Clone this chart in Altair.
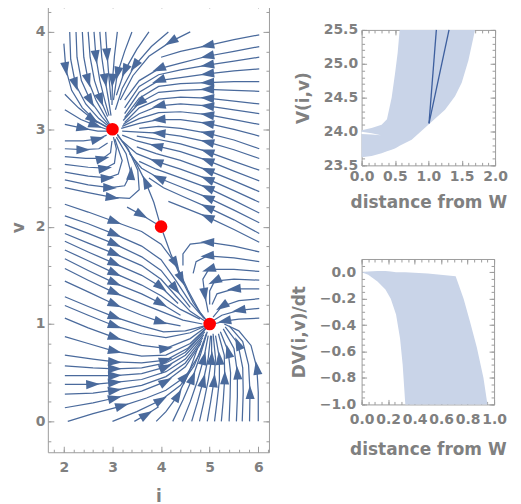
import math
import numpy as np
import pandas as pd
import altair as alt

# ---------------- data ----------------
# stream lines of the phase portrait, (i, v) in flow direction
STREAMS = [
    # from the top, into (3,3)
    [(2.0,3.88),(2.04,3.62),(2.16,3.4),(2.38,3.22),(2.65,3.09),(2.9,3.02)],
    [(2.12,4.0),(2.14,3.72),(2.24,3.46),(2.45,3.26),(2.72,3.11),(2.92,3.03)],
    [(2.25,4.0),(2.27,3.74),(2.36,3.5),(2.55,3.29),(2.78,3.13),(2.93,3.04)],
    [(2.38,4.0),(2.41,3.74),(2.5,3.5),(2.66,3.3),(2.84,3.14),(2.94,3.05)],
    [(2.5,4.0),(2.54,3.74),(2.63,3.5),(2.76,3.3),(2.9,3.13)],
    [(2.62,4.0),(2.66,3.74),(2.74,3.5),(2.84,3.3),(2.93,3.14)],
    [(2.74,4.0),(2.78,3.74),(2.85,3.5),(2.92,3.3),(2.97,3.14)],
    [(2.86,4.0),(2.89,3.76),(2.93,3.52),(2.97,3.3)],
    # diagonal from upper right into (3,3)
    [(3.1,4.0),(3.04,3.75),(3.0,3.5),(2.99,3.25)],
    [(3.4,4.0),(3.25,3.8),(3.1,3.57),(3.02,3.3)],
    [(3.75,4.0),(3.5,3.82),(3.25,3.6),(3.08,3.35)],
    [(4.15,4.0),(3.8,3.85),(3.45,3.65),(3.2,3.42),(3.06,3.2)],
    [(4.6,4.0),(4.2,3.9),(3.75,3.75),(3.42,3.55),(3.16,3.3)],
    # from the right edge, upper part
    [(6.02,3.97),(5.5,3.92),(4.95,3.86),(4.4,3.8),(4.0,3.74)],
    [(6.02,3.85),(5.5,3.8),(4.95,3.75),(4.4,3.68),(3.95,3.62),(3.55,3.5),(3.25,3.3)],
    [(6.02,3.74),(5.5,3.7),(4.95,3.66),(4.4,3.61),(3.95,3.56),(3.55,3.44),(3.25,3.22)],
    [(6.02,3.62),(5.5,3.6),(4.95,3.57),(4.4,3.53),(3.95,3.5),(3.55,3.38),(3.25,3.16)],
    [(6.02,3.49),(5.5,3.49),(4.95,3.48),(4.4,3.47),(3.95,3.44),(3.55,3.32),(3.25,3.12)],
    [(6.02,3.39),(5.5,3.4),(4.95,3.41),(4.4,3.4),(3.95,3.38),(3.55,3.27),(3.22,3.09)],
    [(6.02,3.26),(5.5,3.29),(4.95,3.32),(4.4,3.33),(3.95,3.31),(3.55,3.22),(3.25,3.07)],
    [(6.02,3.16),(5.5,3.2),(4.95,3.24),(4.4,3.26),(3.95,3.24),(3.55,3.16),(3.22,3.05)],
    [(6.02,3.05),(5.5,3.1),(4.95,3.15),(4.4,3.18),(3.95,3.17),(3.55,3.11),(3.2,3.03)],
    [(6.02,2.93),(5.5,3.0),(4.95,3.06),(4.4,3.1),(3.95,3.1),(3.55,3.06),(3.18,3.01)],
    [(6.02,2.8),(5.5,2.89),(4.95,2.96),(4.4,3.01),(3.95,3.03),(3.55,3.01)],
    [(6.02,2.7),(5.5,2.79),(4.95,2.87),(4.4,2.93),(3.95,2.96),(3.55,2.97),(3.2,2.98)],
    # from the right edge, middle, up-left into (3,3)
    [(6.02,2.58),(5.5,2.67),(4.95,2.77),(4.4,2.85),(3.9,2.9),(3.5,2.93)],
    [(6.02,2.47),(5.5,2.57),(4.95,2.68),(4.4,2.77),(3.9,2.83),(3.5,2.88),(3.2,2.94)],
    [(6.02,2.36),(5.5,2.47),(4.95,2.58),(4.4,2.68),(3.9,2.75),(3.5,2.82)],
    [(6.02,2.25),(5.5,2.37),(4.95,2.49),(4.4,2.59),(3.9,2.67),(3.5,2.75),(3.2,2.88)],
    [(6.02,2.14),(5.5,2.27),(4.95,2.4),(4.4,2.5),(3.9,2.59),(3.55,2.67)],
    [(6.02,2.04),(5.5,2.17),(4.95,2.3),(4.4,2.41),(3.95,2.5),(3.6,2.6),(3.35,2.75)],
    [(6.02,1.93),(5.5,2.07),(4.95,2.2),(4.45,2.31),(4.05,2.4),(3.75,2.5)],
    [(6.02,1.84),(5.5,1.97),(4.95,2.1),(4.5,2.19),(4.15,2.26)],
    # from the right edge, lower, into (5,1)
    [(6.02,1.74),(5.5,1.8),(4.95,1.84),(4.6,1.82),(4.45,1.72),(4.45,1.6)],
    [(6.02,1.64),(5.5,1.68),(4.95,1.7),(4.72,1.64),(4.66,1.52)],
    [(6.02,1.54),(5.5,1.56),(4.98,1.56),(4.86,1.46),(4.9,1.3),(4.97,1.12)],
    [(6.02,1.45),(5.5,1.46),(5.1,1.44),(5.0,1.34),(5.0,1.2)],
    [(6.02,1.36),(5.5,1.36),(5.15,1.31),(5.05,1.2)],
    [(6.02,1.26),(5.6,1.24),(5.25,1.18),(5.07,1.07)],
    [(6.02,1.16),(5.6,1.14),(5.25,1.09),(5.06,1.03)],
    [(6.02,1.06),(5.6,1.05),(5.3,1.03),(5.09,1.0)],
    # from the bottom, into (5,1)
    [(4.24,0.0),(4.45,0.22),(4.65,0.45),(4.82,0.7),(4.95,0.92)],
    [(4.44,0.0),(4.6,0.2),(4.75,0.42),(4.88,0.65),(4.97,0.88)],
    [(4.63,0.0),(4.75,0.2),(4.87,0.42),(4.97,0.65),(5.02,0.88)],
    [(4.79,0.0),(4.88,0.2),(4.97,0.42),(5.04,0.65),(5.04,0.88)],
    [(4.95,0.0),(5.02,0.2),(5.09,0.42),(5.12,0.65),(5.07,0.9)],
    [(5.1,0.0),(5.15,0.2),(5.2,0.42),(5.2,0.65),(5.12,0.88)],
    [(5.24,0.0),(5.28,0.22),(5.31,0.45),(5.3,0.68),(5.18,0.9)],
    [(5.4,0.0),(5.42,0.25),(5.43,0.5),(5.38,0.72),(5.22,0.92)],
    [(5.55,0.0),(5.57,0.25),(5.57,0.5),(5.5,0.75),(5.28,0.95)],
    [(5.67,0.0),(5.69,0.3),(5.68,0.55),(5.58,0.8),(5.32,0.97)],
    [(5.82,0.0),(5.83,0.3),(5.8,0.58),(5.68,0.82),(5.4,0.98)],
    [(6.0,0.0),(6.0,0.3),(5.97,0.55),(5.85,0.78),(5.6,0.93),(5.3,1.0)],
    [(2.08,0.0),(2.6,0.08),(3.2,0.16),(3.7,0.24),(4.1,0.32),(4.5,0.46),(4.78,0.68),(4.93,0.9)],
    [(3.0,0.0),(3.5,0.1),(4.0,0.22),(4.4,0.37),(4.68,0.57),(4.88,0.82)],
    [(3.45,0.0),(3.7,0.07),(3.95,0.15)],
    [(3.9,0.0),(4.1,0.1),(4.35,0.27),(4.57,0.5),(4.75,0.75)],
    # from the left edge, lower part
    [(2.02,0.14),(2.6,0.19),(3.05,0.24),(3.6,0.31),(4.1,0.41),(4.5,0.56),(4.82,0.8)],
    [(2.02,0.28),(2.6,0.29),(3.05,0.32),(3.6,0.37),(4.1,0.46),(4.5,0.6),(4.84,0.83)],
    [(2.02,0.38),(2.6,0.38),(3.05,0.4),(3.6,0.43),(4.1,0.51),(4.5,0.64),(4.86,0.86)],
    [(2.02,0.47),(2.6,0.47),(3.05,0.47),(3.6,0.49),(4.1,0.56),(4.5,0.68),(4.88,0.89)],
    [(2.02,0.57),(2.6,0.55),(3.05,0.54),(3.6,0.55),(4.1,0.6),(4.5,0.71),(4.9,0.92)],
    [(2.02,0.68),(2.6,0.64),(3.05,0.61),(3.6,0.6),(4.1,0.63),(4.55,0.75),(4.92,0.95)],
    [(2.02,0.87),(2.5,0.8),(3.05,0.72),(3.6,0.67),(4.1,0.68),(4.6,0.8),(4.95,0.97)],
    [(2.02,1.06),(2.5,0.96),(3.05,0.86),(3.6,0.78),(4.1,0.75),(4.6,0.85),(4.95,0.98)],
    [(2.02,1.19),(2.5,1.09),(3.05,0.98),(3.6,0.9),(4.1,0.86),(4.6,0.91),(4.96,0.99)],
    # from the left edge, middle, down into (5,1)
    [(2.02,2.23),(2.5,2.15),(3.05,2.05),(3.6,1.95),(4.0,1.82),(4.3,1.62),(4.55,1.35),(4.8,1.12),(4.95,1.03)],
    [(2.02,2.11),(2.5,2.03),(3.05,1.92),(3.6,1.8),(4.0,1.66),(4.3,1.45),(4.6,1.22),(4.88,1.06)],
    [(2.02,2.02),(2.5,1.93),(3.05,1.82),(3.6,1.69),(4.0,1.55),(4.3,1.36),(4.6,1.17)],
    [(2.02,1.93),(2.5,1.83),(3.05,1.72),(3.6,1.6),(4.0,1.46),(4.3,1.29),(4.6,1.13),(4.9,1.03)],
    [(2.02,1.85),(2.5,1.74),(3.05,1.62),(3.6,1.5),(4.0,1.38),(4.35,1.21)],
    [(2.02,1.76),(2.5,1.65),(3.05,1.52),(3.6,1.4),(4.0,1.29),(4.4,1.15),(4.8,1.05)],
    [(2.02,1.67),(2.5,1.55),(3.05,1.42),(3.6,1.31),(4.0,1.21),(4.4,1.09)],
    [(2.02,1.57),(2.5,1.45),(3.05,1.32),(3.6,1.21),(4.0,1.13),(4.45,1.04),(4.85,1.0)],
    [(2.02,1.44),(2.5,1.33),(3.05,1.2),(3.6,1.09),(4.0,1.02),(4.4,0.98)],
    [(2.02,1.28),(2.5,1.18),(3.05,1.07),(3.6,0.98),(4.05,0.92),(4.5,0.93),(4.9,0.98)],
    # from the left edge, upper middle, turning up into (3,3)
    [(2.02,2.4),(2.5,2.35),(3.0,2.3),(3.35,2.29),(3.55,2.38),(3.52,2.58),(3.32,2.8),(3.1,2.94)],
    [(2.02,2.48),(2.5,2.43),(2.95,2.4),(3.25,2.42),(3.38,2.55),(3.28,2.75),(3.08,2.92)],
    [(2.02,2.56),(2.5,2.52),(2.9,2.5),(3.12,2.54),(3.2,2.68),(3.05,2.9)],
    [(2.02,2.64),(2.5,2.61),(2.85,2.6),(3.04,2.65),(3.08,2.8),(3.02,2.92)],
    [(2.02,2.72),(2.45,2.7),(2.8,2.7),(2.96,2.76),(2.99,2.88)],
    [(2.02,2.8),(2.4,2.79),(2.72,2.8),(2.9,2.86)],
    [(2.02,2.88),(2.4,2.88),(2.7,2.9),(2.88,2.94)],
    [(2.02,3.36),(2.3,3.22),(2.6,3.1),(2.88,3.02)],
    [(2.02,3.2),(2.35,3.1),(2.65,3.04),(2.88,3.0)],
    [(2.02,3.05),(2.4,3.01),(2.7,2.98),(2.9,2.98)],
    # separatrices of the saddle at (4,2)
    [(3.96,2.06),(3.85,2.25),(3.68,2.46),(3.48,2.66),(3.28,2.82),(3.1,2.95)],
    [(4.04,1.94),(4.2,1.72),(4.42,1.46),(4.66,1.22),(4.9,1.05)],
    [(3.3,2.2),(3.6,2.12),(3.9,2.03)],
]
# vertex of each stream line that carries an arrowhead
ARROW_AT = [
    [1],[2],[3],[2],[3],[1],[2],[1],
    [2],[2],[2],[2],[1],
    [2],[2,4],[2],[2,4],[2],[2,5],[2],[2,4],[2],[2,4],[2],[2,4],
    [2],[2,4],[2],[2,4],[2],[2,4],[2],[2],
    [2],[2],[2,4],[2],[1],[2],[1],[2],
    [2],[3],[2],[3],[2],[3],[2],[3],[2],[3],[1],[2],
    [2,5],[2],[1],[2],
    [2,4],[2],[1,2],[2,4],[2],[2,4],[2],[2,4],[2],
    [2,5],[2],[2,5],[2],[2,4],[2],[2,4],[2],[2,4],[2],
    [2],[2,4],[2],[2],[2],[1],[2],[2],[2],[1],
    [2],[2],[1],
]
FIXED_I = [3, 4, 5]
FIXED_V = [3, 2, 1]

# V(i,v) band against distance from W
DIST_TOP = [0.0, 0.15, 0.3, 0.38, 0.45, 0.5, 0.54, 0.57, 0.75, 1.0, 1.25, 1.4, 1.5, 1.6, 1.7]
V_LOWER = [23.62, 23.64, 23.68, 23.71, 23.73, 23.75, 23.77, 23.79, 23.88, 24.1, 24.32, 24.52, 24.72, 25.05, 25.5]
V_UPPER = [24.02, 24.05, 24.1, 24.18, 24.5, 24.85, 25.16, 25.5, 25.5, 25.5, 25.5, 25.5, 25.5, 25.5, 25.5]
# thin uncovered wedge near distance 0
GAP_D = [0.0, 0.15, 0.29]
GAP_LO = [23.965, 23.955, 23.945]
GAP_HI = [23.997, 23.975, 23.945]
SEG_D = [[1.01, 1.12], [1.01, 1.31]]
SEG_V = [[24.12, 25.5], [24.12, 25.5]]

# DV(i,v)/dt band against distance from W
DIST_BOT = [0.0, 0.05, 0.12, 0.18, 0.22, 0.26, 0.29, 0.31, 0.33, 0.5, 0.71, 0.77, 0.82, 0.87, 0.92, 0.95]
DV_UPPER = [0.0, 0.005, 0.01, 0.01, 0.005, 0.0, 0.0, 0.0, 0.0, -0.01, -0.03, -0.2, -0.38, -0.57, -0.8, -1.0]
DV_LOWER = [0.0, -0.02, -0.07, -0.13, -0.2, -0.32, -0.5, -0.7, -1.0, -1.0, -1.0, -1.0, -1.0, -1.0, -1.0, -1.0]

# ---------------- styling ----------------
FRAME = "#9c9c9c"
TXT = "#808080"
FONT = "DejaVu Sans"
STREAM_COL = "#4a6a9c"
FILL_COL = "#c9d4e8"
SEG_COL = "#3d5f9e"

L_W, L_H = 222, 452
XDOM = [1.67, 6.22]
YDOM = [-0.317, 4.307]


def axis(orient, values, length, labels=False, title=None, fmt=None, pad=4, tpad=8):
    kw = dict(orient=orient, values=values, tickSize=length, offset=-length,
              domain=False, labels=labels, ticks=True, tickColor=FRAME, tickWidth=1,
              grid=False, labelPadding=pad, labelFont=FONT, labelFontSize=14,
              labelFontWeight="bold", labelColor=TXT, labelOverlap=False,
              labelFlush=False, titleFont=FONT, titleFontSize=17,
              titleFontWeight="bold", titleColor=TXT, titlePadding=tpad,
              title=title)
    if fmt:
        kw["format"] = fmt
    return alt.Axis(**kw)


def steps(a, b, s):
    return [round(x, 3) for x in np.arange(a, b + s / 2, s)]


# ---------------- left: stream plot ----------------
rows = []
for sid, pts in enumerate(STREAMS):
    for k, (i, v) in enumerate(pts):
        rows.append({"sid": sid, "ord": k, "i": i, "v": v})
stream_df = pd.DataFrame(rows)

sx = L_W / (XDOM[1] - XDOM[0])
sy = L_H / (YDOM[1] - YDOM[0])
arows = []
for sid, pts in enumerate(STREAMS):
    for k in ARROW_AT[sid]:
        a = pts[max(k - 1, 0)]
        b = pts[min(k + 1, len(pts) - 1)]
        dx = (b[0] - a[0]) * sx
        dy = -(b[1] - a[1]) * sy
        ang = math.degrees(math.atan2(dy, dx)) % 360
        arows.append({"i": pts[k][0], "v": pts[k][1], "ang": ang})
arrow_df = pd.DataFrame(arows)
fixed_df = pd.DataFrame({"i": FIXED_I, "v": FIXED_V})

xs = alt.Scale(domain=XDOM, nice=False, zero=False)
ys = alt.Scale(domain=YDOM, nice=False, zero=False)
xmaj, xmin = [2, 3, 4, 5, 6], steps(1.8, 6.2, 0.2)
ymaj, ymin = [0, 1, 2, 3, 4], steps(-0.2, 4.2, 0.2)

streams = alt.Chart(stream_df).mark_line(color=STREAM_COL, strokeWidth=1.25).encode(
    x=alt.X("i:Q", scale=xs, axis=axis("bottom", xmaj, 6, True, "i", pad=8, tpad=14)),
    y=alt.Y("v:Q", scale=ys, axis=axis("left", ymaj, 6, True, "v", pad=3, tpad=8)),
    detail="sid:N", order="ord:Q")

arrows = alt.Chart(arrow_df).mark_point(
    shape="M1,0L-1,-0.66L-1,0.66Z", filled=True, size=190, color=STREAM_COL,
    opacity=1, strokeWidth=0).encode(
    x=alt.X("i:Q", scale=xs, axis=axis("bottom", xmin, 3)),
    y=alt.Y("v:Q", scale=ys, axis=axis("left", ymin, 3)),
    angle=alt.Angle("ang:Q", scale=alt.Scale(domain=[0, 360], range=[0, 360])))

fixed = alt.Chart(fixed_df).mark_circle(size=160, color="#ff0000", opacity=1).encode(
    x=alt.X("i:Q", scale=xs, axis=axis("top", xmaj, 6)),
    y=alt.Y("v:Q", scale=ys, axis=axis("right", ymaj, 6)))

frame_l = alt.Chart(fixed_df).mark_circle(opacity=0).encode(
    x=alt.X("i:Q", scale=xs, axis=axis("top", xmin, 3)),
    y=alt.Y("v:Q", scale=ys, axis=axis("right", ymin, 3)))

left = alt.layer(streams, arrows, fixed, frame_l).resolve_axis(
    x="independent", y="independent").properties(width=L_W, height=L_H)

# ---------------- top right ----------------
top_df = pd.DataFrame({"d": DIST_TOP, "lo": V_LOWER, "hi": V_UPPER})
gap_df = pd.DataFrame({"d": GAP_D, "lo": GAP_LO, "hi": GAP_HI})
seg_rows = []
for k in range(len(SEG_D)):
    for j in range(2):
        seg_rows.append({"sid": k, "ord": j, "d": SEG_D[k][j], "V": SEG_V[k][j]})
seg_df = pd.DataFrame(seg_rows)

txs = alt.Scale(domain=[0, 2], nice=False, zero=False)
tys = alt.Scale(domain=[23.5, 25.5], nice=False, zero=False)
tx_maj, tx_min = steps(0, 2, 0.5), steps(0, 2, 0.1)
ty_maj, ty_min = steps(23.5, 25.5, 0.5), steps(23.5, 25.5, 0.1)

t_area = alt.Chart(top_df).mark_area(color=FILL_COL, opacity=1).encode(
    x=alt.X("d:Q", scale=txs, axis=axis("bottom", tx_maj, 5, True, "distance from W", ".1f", pad=4, tpad=11)),
    y=alt.Y("hi:Q", scale=tys, axis=axis("left", ty_maj, 5, True, "V(i,v)", ".1f", pad=4, tpad=11)),
    y2="lo:Q")
t_gap = alt.Chart(gap_df).mark_area(color="#ffffff", opacity=1).encode(
    x=alt.X("d:Q", scale=txs, axis=axis("top", tx_min, 3)),
    y=alt.Y("hi:Q", scale=tys, axis=axis("right", ty_min, 3)),
    y2="lo:Q")
t_seg = alt.Chart(seg_df).mark_line(color=SEG_COL, strokeWidth=1.3).encode(
    x=alt.X("d:Q", scale=txs, axis=axis("bottom", tx_min, 3)),
    y=alt.Y("V:Q", scale=tys, axis=axis("left", ty_min, 3)),
    detail="sid:N", order="ord:Q")
t_f1 = alt.Chart(top_df).mark_point(opacity=0).encode(
    x=alt.X("d:Q", scale=txs, axis=axis("top", tx_maj, 5)),
    y=alt.Y("lo:Q", scale=tys, axis=axis("right", ty_maj, 5)))
top_right = alt.layer(t_area, t_gap, t_seg, t_f1).resolve_axis(
    x="independent", y="independent").properties(width=134, height=136)

# ---------------- bottom right ----------------
bot_df = pd.DataFrame({"d": DIST_BOT, "hi": DV_UPPER, "lo": DV_LOWER})
bxs = alt.Scale(domain=[0, 1], nice=False, zero=False)
bys = alt.Scale(domain=[-1, 0.1], nice=False, zero=False)
bx_maj, bx_min = steps(0, 1, 0.2), steps(0, 1, 0.05)
by_maj, by_min = steps(-1, 0, 0.2), steps(-1, 0.1, 0.05)

b_area = alt.Chart(bot_df).mark_area(color=FILL_COL, opacity=1).encode(
    x=alt.X("d:Q", scale=bxs, axis=axis("bottom", bx_maj, 5, True, "distance from W", ".1f", pad=8, tpad=15)),
    y=alt.Y("hi:Q", scale=bys, axis=axis("left", by_maj, 5, True, "DV(i,v)/dt", ".1f", pad=6, tpad=11)),
    y2="lo:Q")
b_f0 = alt.Chart(bot_df).mark_point(opacity=0).encode(
    x=alt.X("d:Q", scale=bxs, axis=axis("bottom", bx_min, 3)),
    y=alt.Y("lo:Q", scale=bys, axis=axis("left", by_min, 3)))
b_f1 = alt.Chart(bot_df).mark_point(opacity=0).encode(
    x=alt.X("d:Q", scale=bxs, axis=axis("top", bx_maj, 5)),
    y=alt.Y("lo:Q", scale=bys, axis=axis("right", by_maj, 5)))
b_f2 = alt.Chart(bot_df).mark_point(opacity=0).encode(
    x=alt.X("d:Q", scale=bxs, axis=axis("top", bx_min, 3)),
    y=alt.Y("lo:Q", scale=bys, axis=axis("right", by_min, 3)))
bot_right = alt.layer(b_area, b_f0, b_f1, b_f2).resolve_axis(
    x="independent", y="independent").properties(width=133, height=146)

# empty strip that lowers the right column below the top of the stream plot
spacer = alt.Chart(fixed_df).mark_point(opacity=0, size=1).encode(
    x=alt.X("i:Q", axis=None), y=alt.Y("v:Q", axis=None)).properties(
    width=133, height=1, view=alt.ViewBackground(strokeOpacity=0))

right = alt.vconcat(spacer, alt.vconcat(top_right, bot_right, spacing=47), spacing=18)

chart = alt.hconcat(left, right, spacing=19).configure_view(
    stroke=FRAME, strokeWidth=1).properties(
    padding={"left": 0, "top": -8, "right": 5, "bottom": 5})

chart.save("out.html", embed_options={"renderer": "svg", "actions": False})
